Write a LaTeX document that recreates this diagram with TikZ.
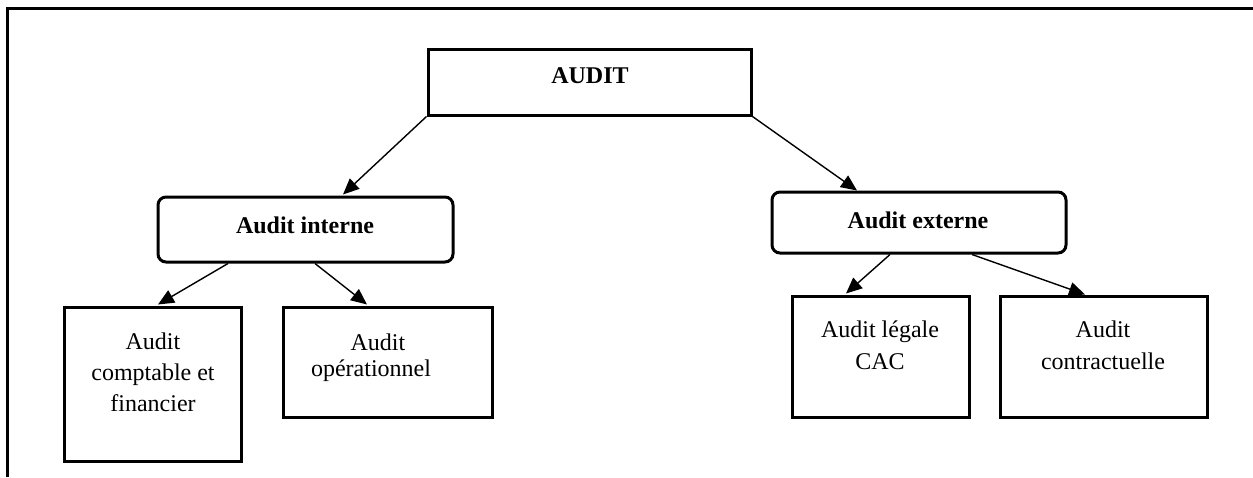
\documentclass[tikz,border=0pt]{standalone}
\usepackage{fontspec}
\setmainfont{Liberation Serif}
\usetikzlibrary{arrows.meta}

\begin{document}
\begin{tikzpicture}[
  x=0.5pt, y=-0.5pt,
  box/.style={draw, line width=1.5pt, rectangle, inner sep=0pt},
  roundbox/.style={box, rounded corners=4pt},
  lbl/.style={anchor=base, align=center, inner sep=0pt,
    font=\fontsize{12}{15.5}\selectfont},
  boldlbl/.style={lbl, font=\fontsize{12}{15.5}\selectfont\bfseries},
  link/.style={line width=0.7pt, -{Triangle[length=8pt, width=7pt]}},
  frame/.style={line width=1.5pt}
]
\useasboundingbox (0,0) rectangle (1253,477);

% outer frame (top and left edges)
\draw[frame] (1253,8) -- (7,8) -- (7,477);

% boxes
\node[box, minimum width=161.5pt, minimum height=33pt] (audit) at (589.5,82) {};
\node[roundbox, minimum width=147.5pt, minimum height=32.5pt] (interne) at (305.5,229.5) {};
\node[roundbox, minimum width=147pt, minimum height=30.5pt] (externe) at (919,222.5) {};
\node[box, minimum width=88.5pt, minimum height=77pt] (compta) at (152.5,384) {};
\node[box, minimum width=104.5pt, minimum height=55pt] (oper) at (387.5,362) {};
\node[box, minimum width=88.5pt, minimum height=60.5pt] (legale) at (880.5,356.5) {};
\node[box, minimum width=103.5pt, minimum height=60.5pt] (contrat) at (1103.5,356.5) {};

% labels (anchored on the baseline of the last line)
\node[boldlbl] (t-audit) at (590,83) {AUDIT};
\node[boldlbl] (t-interne) at (305,233) {Audit interne};
\node[boldlbl] (t-externe) at (918,228) {Audit externe};
\node[lbl] (t-compta) at (153,411) {Audit\\comptable et\\financier};
\node[lbl, font=\fontsize{12}{13}\selectfont] (t-oper) at (371,376) {\hspace*{7pt}Audit\\op\'erationnel};
\node[lbl, font=\fontsize{12}{16}\selectfont] (t-legale) at (880,369) {Audit l\'egale\\CAC};
\node[lbl, font=\fontsize{12}{16}\selectfont] (t-contrat) at (1103,369) {Audit\\contractuelle};

% connectors
\draw[link] (audit.south west) -- ([shift={(37.5,-1)}]interne.north);
\draw[link] (audit.south east) -- ([shift={(-62,0)}]externe.north);
\draw[link] ([shift={(-77.5,0)}]interne.south) -- ([shift={(5.5,-1)}]compta.north);
\draw[link] ([shift={(9.5,0)}]interne.south) -- ([shift={(-20.5,-1)}]oper.north);
\draw[link] ([shift={(-29,0)}]externe.south) -- ([shift={(-34.5,-1)}]legale.north);
\draw[link] ([shift={(53,0)}]externe.south) -- ([shift={(-18.5,0)}]contrat.north);
\end{tikzpicture}
\end{document}
